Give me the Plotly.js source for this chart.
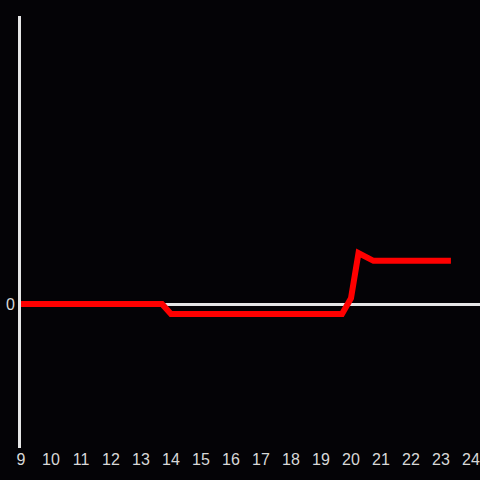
<!DOCTYPE html>
<html>
<head>
<meta charset="utf-8">
<script src="https://cdn.plot.ly/plotly-3.0.1.min.js"></script>
<style>html,body{margin:0;padding:0;background:#040306;}#chart{width:480px;height:480px;}</style>
</head>
<body>
<div id="chart"></div>
<script>
const hours = [9, 13.7, 14.0, 19.7, 20.0, 20.25, 20.75, 23.33];
const values = [0, 0, -0.07, -0.07, 0.04, 0.354, 0.30, 0.30];
const xTicks = [9,10,11,12,13,14,15,16,17,18,19,20,21,22,23,24];

Plotly.newPlot('chart', [{
  x: hours, y: values, type: 'scatter', mode: 'lines',
  line: {color: '#ff0000', width: 6}, hoverinfo: 'skip'
}], {
  width: 480, height: 480,
  paper_bgcolor: '#040306', plot_bgcolor: '#040306',
  margin: {l: 21, r: 0, t: 16, b: 32},
  showlegend: false,
  font: {family: 'Liberation Sans, Arial, sans-serif', size: 16, color: '#d8d8d8'},
  xaxis: {range: [9, 24.3], tickvals: xTicks, ticktext: xTicks.map(String),
    showgrid: false, zeroline: false, showline: false, ticks: '', ticklen: 0},
  yaxis: {range: [-1, 2], tickvals: [0], ticktext: ['0'], showgrid: false,
    zeroline: true, zerolinecolor: '#e6e6e6', zerolinewidth: 3,
    showline: true, linecolor: '#e6e6e6', linewidth: 3, ticks: ''}
}, {displayModeBar: false, staticPlot: true});
</script>
</body>
</html>
